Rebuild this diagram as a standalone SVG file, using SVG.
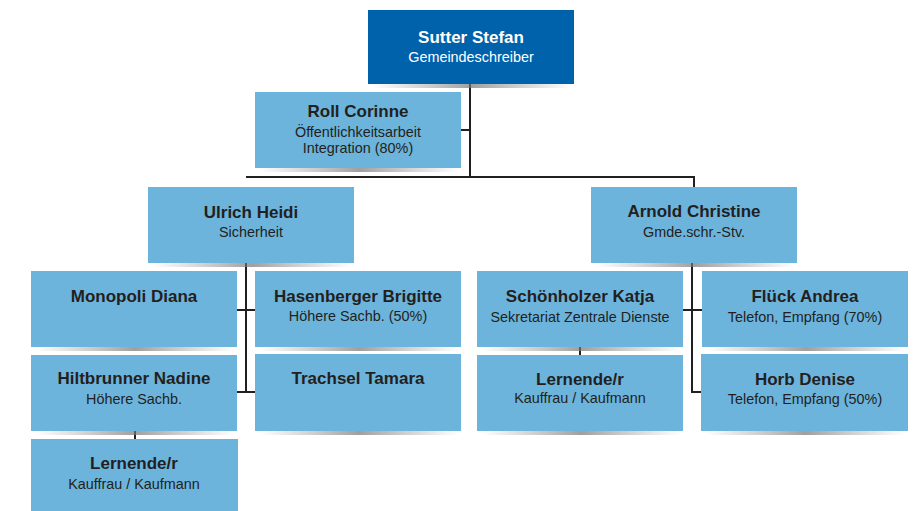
<svg xmlns="http://www.w3.org/2000/svg" width="915" height="511" viewBox="0 0 915 511">
<style>
.box{fill:#6cb4dc}
.top{fill:#0062ab}
.t{font-family:"Liberation Sans",Arial,sans-serif;font-weight:bold;font-size:17px;fill:#231f20;text-anchor:middle}
.s{font-family:"Liberation Sans",Arial,sans-serif;font-size:14.4px;fill:#231f20;text-anchor:middle}
.w{fill:#ffffff}
.c{stroke:#231f20;stroke-width:2;fill:none}
.sh{fill:url(#shg)}
</style>
<defs>
<linearGradient id="shg" x1="0" y1="0" x2="1" y2="0">
<stop offset="0" stop-color="#888" stop-opacity="0"/>
<stop offset="0.5" stop-color="#777" stop-opacity="0.7"/>
<stop offset="1" stop-color="#888" stop-opacity="0"/>
</linearGradient>
</defs>
<g id="connectors">
<path class="c" d="M470 84V177M461 130H470M246 177H694V187M246 263V392M237 310H255M237 392H255M135 431V439M692 263V392H702M683 310H702M580 347V355"/>
</g>
<g id="sutter"><rect class="sh" x="372" y="84" width="200" height="4"/><rect class="top" x="368" y="10" width="206" height="74"/><text class="t w" x="471" y="43">Sutter Stefan</text><text class="s w" x="471" y="62">Gemeindeschreiber</text></g>
<g id="roll"><rect class="sh" x="259" y="168" width="200" height="4"/><rect class="box" x="255" y="92" width="206" height="76"/><text class="t" x="358" y="117">Roll Corinne</text><text class="s" x="358" y="137">Öffentlichkeitsarbeit</text><text class="s" x="358" y="153">Integration (80%)</text></g>
<g id="ulrich"><rect class="sh" x="152" y="263" width="200" height="4"/><rect class="box" x="148" y="187" width="206" height="76"/><text class="t" x="251" y="218">Ulrich Heidi</text><text class="s" x="251" y="237">Sicherheit</text></g>
<g id="arnold"><rect class="sh" x="595" y="263" width="200" height="4"/><rect class="box" x="591" y="187" width="206" height="76"/><text class="t" x="694" y="217">Arnold Christine</text><text class="s" x="694" y="237">Gmde.schr.-Stv.</text></g>
<g id="monopoli"><rect class="sh" x="35" y="347" width="200" height="4"/><rect class="box" x="31" y="271" width="206" height="76"/><text class="t" x="134" y="302">Monopoli Diana</text></g>
<g id="hasenberger"><rect class="sh" x="259" y="347" width="200" height="4"/><rect class="box" x="255" y="271" width="206" height="76"/><text class="t" x="358" y="302">Hasenberger Brigitte</text><text class="s" x="358" y="321">Höhere Sachb. (50%)</text></g>
<g id="hiltbrunner"><rect class="sh" x="35" y="431" width="200" height="4"/><rect class="box" x="31" y="355" width="206" height="76"/><text class="t" x="134" y="384">Hiltbrunner Nadine</text><text class="s" x="134" y="404">Höhere Sachb.</text></g>
<g id="trachsel"><rect class="sh" x="259" y="431" width="200" height="4"/><rect class="box" x="255" y="354" width="206" height="77"/><text class="t" x="358" y="384">Trachsel Tamara</text></g>
<g id="lernende1"><rect class="box" x="31" y="439" width="207" height="72"/><text class="t" x="134" y="469">Lernende/r</text><text class="s" x="134" y="489">Kauffrau / Kaufmann</text></g>
<g id="schoenholzer"><rect class="sh" x="481" y="347" width="200" height="4"/><rect class="box" x="477" y="271" width="206" height="76"/><text class="t" x="580" y="302">Schönholzer Katja</text><text class="s" x="580" y="322">Sekretariat Zentrale Dienste</text></g>
<g id="flueck"><rect class="sh" x="706" y="347" width="200" height="4"/><rect class="box" x="702" y="271" width="206" height="76"/><text class="t" x="805" y="302">Flück Andrea</text><text class="s" x="805" y="322">Telefon, Empfang (70%)</text></g>
<g id="lernende2"><rect class="sh" x="481" y="431" width="200" height="4"/><rect class="box" x="477" y="355" width="206" height="76"/><text class="t" x="580" y="385">Lernende/r</text><text class="s" x="580" y="403">Kauffrau / Kaufmann</text></g>
<g id="horb"><rect class="sh" x="705" y="431" width="200" height="4"/><rect class="box" x="701" y="354" width="207" height="77"/><text class="t" x="805" y="385">Horb Denise</text><text class="s" x="805" y="404">Telefon, Empfang (50%)</text></g>
</svg>
